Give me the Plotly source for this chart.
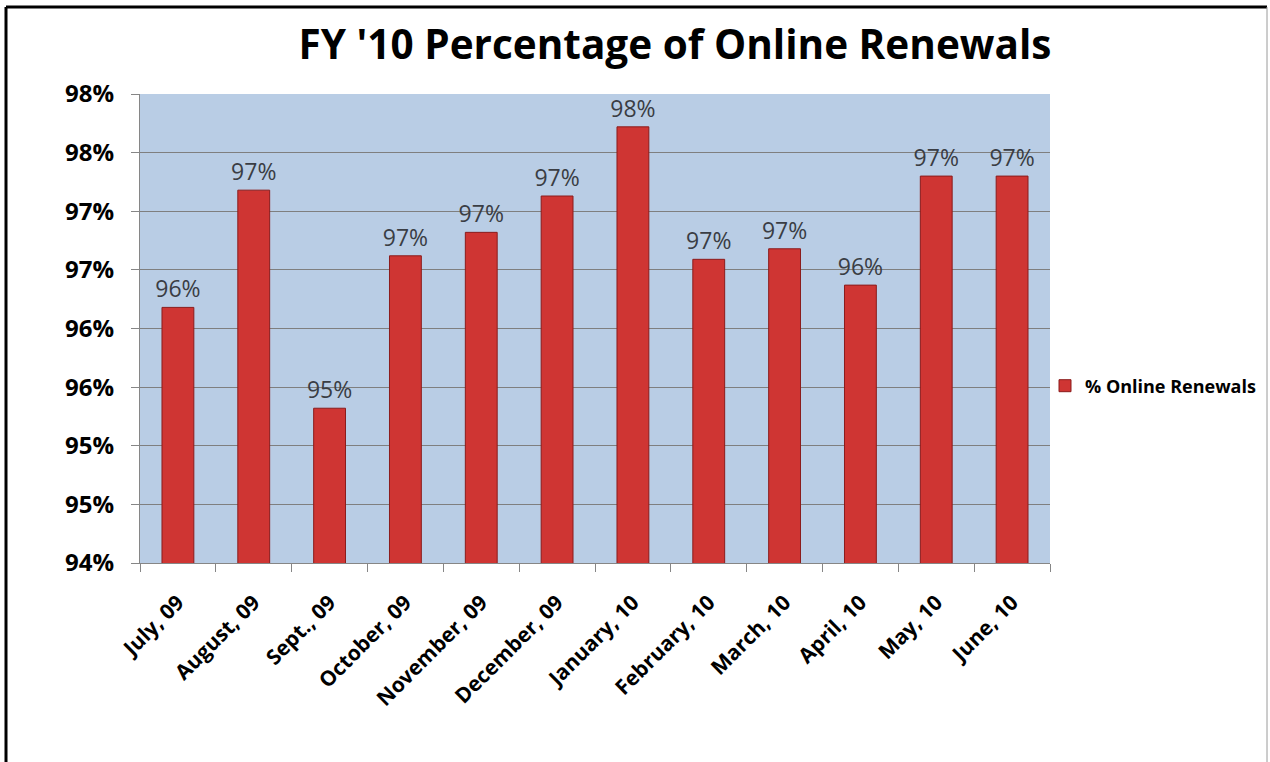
import plotly.graph_objects as go

# ---- data ----
months = ["July, 09", "August, 09", "Sept., 09", "October, 09", "November, 09",
          "December, 09", "January, 10", "February, 10", "March, 10", "April, 10",
          "May, 10", "June, 10"]
online_share = [0.9618, 0.9718, 0.9532, 0.9662, 0.9682, 0.9713,
                0.9772, 0.9659, 0.9668, 0.9637, 0.9730, 0.9730]
y_tick_values = [0.94, 0.945, 0.95, 0.955, 0.96, 0.965, 0.97, 0.975, 0.98]
y_tick_labels = ["94%", "95%", "95%", "96%", "96%", "97%", "97%", "98%", "98%"]
series_name = "% Online Renewals"
title_text = "FY '10 Percentage of Online Renewals"

# ---- layout geometry ----
W, H = 1270, 762
L, R, T, B = 140, 220, 94, 199
PW, PH = W - L - R, H - T - B


def px_x(p):
    return (p - L) / PW


def px_y(p):
    return (H - B - p) / PH


FONT = "Open Sans"

fig = go.Figure(
    go.Bar(
        x=months,
        y=online_share,
        name=series_name,
        marker=dict(color="#CF3533", line=dict(color="#8B1C1C", width=1)),
        texttemplate="%{y:.0%}",
        textposition="outside",
        constraintext="none",
        textfont=dict(family=FONT, size=23, color="#3a3d44"),
        cliponaxis=False,
        showlegend=True,
    )
)

fig.update_layout(
    width=W,
    height=H,
    margin=dict(l=L, r=R, t=T, b=B, autoexpand=False),
    paper_bgcolor="white",
    plot_bgcolor="#B9CDE5",
    bargap=0.58,
    title=dict(
        text=title_text,
        x=675 / W, xanchor="center",
        y=1 - 45 / H, yanchor="middle",
        xref="container", yref="container",
        font=dict(family=FONT, size=40.5, color="black", weight="bold"),
    ),
    legend=dict(
        x=px_x(1045), xanchor="left",
        y=px_y(386), yanchor="middle",
        font=dict(family=FONT, size=18, color="black", weight="bold"),
        bgcolor="rgba(0,0,0,0)",
    ),
    xaxis=dict(
        type="category",
        tickson="boundaries",
        ticks="outside", ticklen=8, tickcolor="#868686",
        showline=True, linecolor="#868686",
        showgrid=False,
        tickangle=-45,
        ticklabelstandoff=18,
        tickfont=dict(family=FONT, size=21, color="black", weight="bold"),
    ),
    yaxis=dict(
        range=[0.94, 0.98],
        tickvals=y_tick_values,
        ticktext=y_tick_labels,
        ticks="outside", ticklen=8, tickcolor="#868686",
        showline=True, linecolor="#868686",
        gridcolor="#7F7F7F", gridwidth=1,
        zeroline=False,
        ticklabelstandoff=12,
        tickfont=dict(family=FONT, size=24, color="black", weight="bold"),
    ),
    shapes=[
        dict(type="line", xref="paper", yref="paper", x0=px_x(6), x1=px_x(6),
             y0=px_y(7), y1=px_y(780), line=dict(color="black", width=3)),
        dict(type="line", xref="paper", yref="paper", x0=px_x(6), x1=px_x(1267),
             y0=px_y(7), y1=px_y(7), line=dict(color="black", width=3)),
        dict(type="line", xref="paper", yref="paper", x0=px_x(1267), x1=px_x(1267),
             y0=px_y(7), y1=px_y(780), line=dict(color="#9a9a9a", width=1)),
    ],
)

fig.write_html(
    "out.html",
    config={"displayModeBar": False},
    post_script="document.body.style.margin='0';document.body.style.overflow='hidden';",
)
